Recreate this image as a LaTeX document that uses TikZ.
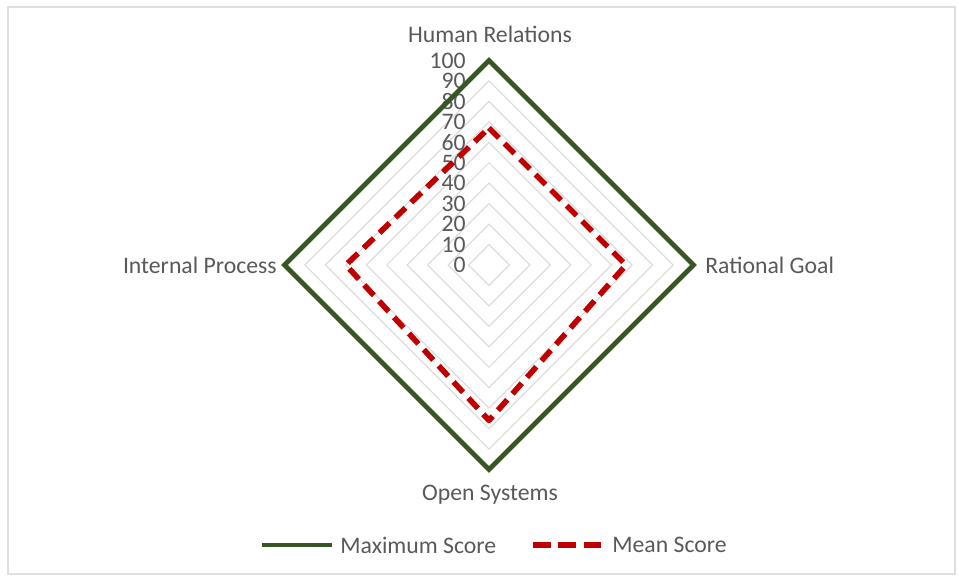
\documentclass[tikz,border=0pt]{standalone}
\usepackage{fontspec}
\setmainfont{Carlito}
\usepackage{xcolor}
\usepackage{tikz}
\usetikzlibrary{calc,positioning}

\definecolor{maxgreen}{HTML}{375623}
\definecolor{meanred}{HTML}{C00000}
\definecolor{gridgray}{HTML}{D9D9D9}
\definecolor{textgray}{HTML}{595959}

\begin{document}
\begin{tikzpicture}[
        %We set the scale and define some styles
        x=0.02cm, y=0.02cm,
        grid line/.style={gridgray, line width=0.6pt},
        max line/.style={maxgreen, line width=2.8pt, line join=miter},
        mean line/.style={meanred, line width=3.2pt, dash pattern=on 8pt off 4.5pt, line join=round},
        every node/.style={color=textgray, font=\fontsize{13.5pt}{15pt}\selectfont, inner sep=0pt}
    ]
    % Important coordinates are defined
    \newcommand\rmax{204.5}
    \useasboundingbox (-489,-316) rectangle (470,265);

    % Frame
    \draw[gray!25, line width=0.8pt] (-481,258) rectangle (466,-309);

    % Grid
    \foreach \k in {1,...,10}
        \draw[grid line] (0,\k*\rmax/10) -- (\k*\rmax/10,0) -- (0,-\k*\rmax/10) -- (-\k*\rmax/10,0) -- cycle;

    % Scale
    \node[anchor=east] (s0) at (-23,0) {0};
    \node[anchor=east] (s10) at (-23,0.1*\rmax) {10};
    \node[anchor=east] (s20) at (-23,0.2*\rmax) {20};
    \node[anchor=east] (s30) at (-23,0.3*\rmax) {30};
    \node[anchor=east] (s40) at (-23,0.4*\rmax) {40};
    \node[anchor=east] (s50) at (-23,0.5*\rmax) {50};
    \node[anchor=east] (s60) at (-23,0.6*\rmax) {60};
    \node[anchor=east] (s70) at (-23,0.7*\rmax) {70};
    \node[anchor=east] (s80) at (-23,0.8*\rmax) {80};
    \node[anchor=east] (s90) at (-23,0.9*\rmax) {90};
    \node[anchor=east] (s100) at (-23,\rmax) {100};

    % Maximum Score
    \draw[max line] (0,\rmax) -- (\rmax,0) -- (0,-\rmax) -- (-\rmax,0) -- cycle;

    % Mean Score
    \draw[mean line] (0,0.67*\rmax) -- (0.67*\rmax,0) -- (0,-0.76*\rmax) -- (-0.70*\rmax,0) -- cycle;

    % Categories
    \node (hr) at (1,231) {Human Relations};
    \node[anchor=west] (rg) at (216,0) {Rational Goal};
    \node (os) at (1,-230) {Open Systems};
    \node[anchor=east] (ip) at (-212,0) {Internal Process};

    % Legend
    \coordinate (maxa) at (-227,-280);
    \coordinate (maxb) at (-157,-280);
    \draw[max line] (maxa) -- (maxb);
    \node[anchor=west] (maxlabel) at (-149,-280) {Maximum Score};
    \coordinate (meana) at (44,-280);
    \coordinate (meanb) at (114,-280);
    \draw[mean line, dash pattern=on 10pt off 4.4pt] (meana) -- (meanb);
    \node[anchor=west] (meanlabel) at (123,-280) {Mean Score};
\end{tikzpicture}
\end{document}
